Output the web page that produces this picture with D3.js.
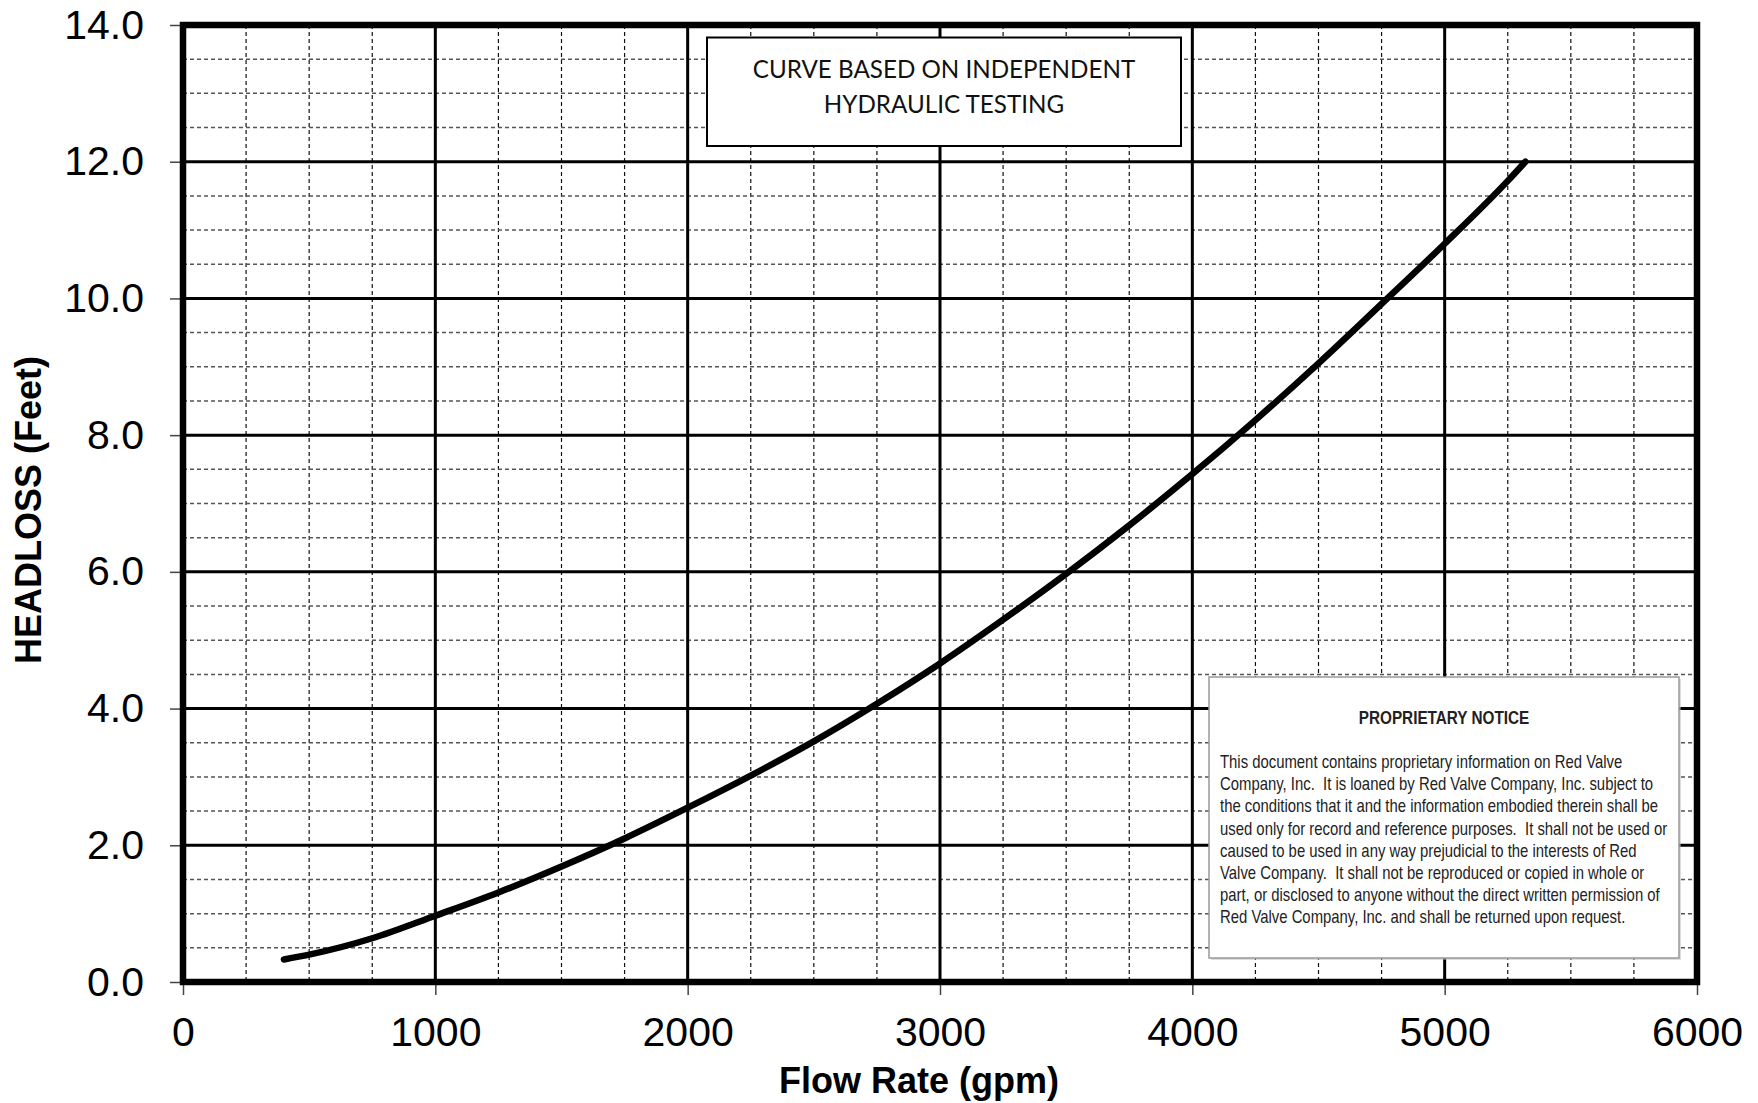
<!DOCTYPE html>
<html>
<head>
<meta charset="utf-8">
<script src="https://cdn.jsdelivr.net/npm/d3@7"></script>
<style>
  html, body { margin: 0; padding: 0; background: #fff; }
  svg { display: block; }
  .notice text { white-space: pre; }
</style>
</head>
<body>
<svg id="chart" width="1758" height="1103"></svg>
<script>
// ---- data ----
const flowRate = [400, 500, 750, 1000, 1250, 1500, 1750, 2000, 2250, 2500, 2750, 3000, 3250, 3500, 3750, 4000, 4250, 4500, 4750, 5000, 5250, 5320];
const headloss = [0.33, 0.40, 0.64, 0.97, 1.31, 1.69, 2.10, 2.55, 3.02, 3.52, 4.07, 4.66, 5.30, 5.97, 6.68, 7.43, 8.22, 9.05, 9.92, 10.80, 11.72, 12.0];
const xTicks = [0, 1000, 2000, 3000, 4000, 5000, 6000];
const yTicks = [0, 2, 4, 6, 8, 10, 12, 14];
const xTitle = "Flow Rate (gpm)";
const yTitle = "HEADLOSS (Feet)";
const curveNote = ["CURVE BASED ON INDEPENDENT", "HYDRAULIC TESTING"];
const noticeTitle = "PROPRIETARY NOTICE";
const noticeLines = [
  "This document contains proprietary information on Red Valve",
  "Company, Inc.  It is loaned by Red Valve Company, Inc. subject to",
  "the conditions that it and the information embodied therein shall be",
  "used only for record and reference purposes.  It shall not be used or",
  "caused to be used in any way prejudicial to the interests of Red",
  "Valve Company.  It shall not be reproduced or copied in whole or",
  "part, or disclosed to anyone without the direct written permission of",
  "Red Valve Company, Inc. and shall be returned upon request."
];

// ---- layout ----
const L = 183, T = 25, R = 1697, B = 982;
const svg = d3.select("#chart");
const x = d3.scaleLinear().domain([0, 6000]).range([L, R]);
const y = d3.scaleLinear().domain([0, 14]).range([B, T]);
const armFont = "'Liberation Sans', Arial, Helvetica, sans-serif";

// minor grid
const g = svg.append("g");
g.selectAll("line.vminor").data(d3.range(250, 6000, 250).filter(v => v % 1000 !== 0))
  .join("line").attr("class", "vminor")
  .attr("x1", d => x(d)).attr("x2", d => x(d)).attr("y1", T).attr("y2", B)
  .attr("stroke", "#111").attr("stroke-width", 1.2).attr("stroke-dasharray", "4,3");
g.selectAll("line.hminor").data(d3.range(0.5, 14, 0.5).filter(v => v % 2 !== 0))
  .join("line").attr("class", "hminor")
  .attr("x1", L).attr("x2", R).attr("y1", d => y(d)).attr("y2", d => y(d))
  .attr("stroke", "#555").attr("stroke-width", 1.5).attr("stroke-dasharray", "4,3");
// major grid
g.selectAll("line.vmajor").data(xTicks.slice(1, -1))
  .join("line").attr("x1", d => x(d)).attr("x2", d => x(d)).attr("y1", T).attr("y2", B)
  .attr("stroke", "#000").attr("stroke-width", 3);
g.selectAll("line.hmajor").data(yTicks.slice(1, -1))
  .join("line").attr("x1", L).attr("x2", R).attr("y1", d => y(d)).attr("y2", d => y(d))
  .attr("stroke", "#000").attr("stroke-width", 3);

// axes
const xAxis = svg.append("g").attr("transform", `translate(0,${B})`)
  .call(d3.axisBottom(x).tickValues(xTicks).tickFormat(d3.format("d")).tickSize(13).tickPadding(22));
const yAxis = svg.append("g").attr("transform", `translate(${L},0)`)
  .call(d3.axisLeft(y).tickValues(yTicks).tickFormat(d3.format(".1f")).tickSize(13).tickPadding(26));
[xAxis, yAxis].forEach(a => {
  a.select(".domain").remove();
  a.selectAll(".tick line").attr("stroke", "#444").attr("stroke-width", 1.5);
  a.selectAll(".tick text").attr("font-family", armFont).attr("font-size", 41).attr("fill", "#000");
});
xAxis.selectAll(".tick text").attr("dy", "0.71em");

// curve box
const cb = svg.append("g");
cb.append("rect").attr("x", 707).attr("y", 37.5).attr("width", 474).attr("height", 108.5)
  .attr("fill", "#fff").attr("stroke", "#000").attr("stroke-width", 2);
cb.selectAll("text").data(curveNote).join("text")
  .attr("x", 944).attr("y", (d, i) => 78 + i * 34.5)
  .attr("text-anchor", "middle").attr("font-family", "Lato, 'Open Sans', sans-serif")
  .attr("font-size", 24.2).attr("fill", "#111").text(d => d);

// notice box
const nb = svg.append("g").attr("class", "notice");
nb.append("rect").attr("x", 1211).attr("y", 679).attr("width", 470).attr("height", 281)
  .attr("fill", "#bbb").attr("opacity", 0.5);
nb.append("rect").attr("x", 1209).attr("y", 677).attr("width", 470).attr("height", 281)
  .attr("fill", "#fff").attr("stroke", "#999").attr("stroke-width", 1.5);
const narrow = "'Liberation Sans Narrow', 'Arial Narrow', 'Liberation Sans', sans-serif";
const sx = 0.85; // horizontal condensing to mimic a narrow face
const nt = nb.append("g").attr("transform", `translate(1220,0) scale(${sx},1)`);
nt.append("text").attr("x", (1444 - 1220) / sx).attr("y", 724).attr("text-anchor", "middle")
  .attr("font-family", narrow).attr("font-weight", "bold").attr("font-size", 18)
  .attr("fill", "#222").text(noticeTitle);
nt.selectAll("text.line").data(noticeLines).join("text").attr("class", "line")
  .attr("x", 0).attr("y", (d, i) => 768 + i * 22.2)
  .attr("font-family", narrow).attr("font-size", 17.5).attr("fill", "#222").text(d => d);

// curve
const pts = flowRate.map((q, i) => [q, headloss[i]]);
svg.append("path").datum(pts)
  .attr("d", d3.line().x(d => x(d[0])).y(d => y(d[1])).curve(d3.curveMonotoneX))
  .attr("fill", "none").attr("stroke", "#000").attr("stroke-width", 6.5)
  .attr("stroke-linecap", "round").attr("stroke-linejoin", "round");

// frame
svg.append("rect").attr("x", L).attr("y", T).attr("width", R - L).attr("height", B - T)
  .attr("fill", "none").attr("stroke", "#000").attr("stroke-width", 6.5);

// titles
svg.append("text").attr("x", 919).attr("y", 1093).attr("text-anchor", "middle")
  .attr("font-family", armFont).attr("font-weight", "bold").attr("font-size", 36)
  .attr("fill", "#000").text(xTitle);
svg.append("text").attr("transform", "translate(41,510) rotate(-90)").attr("text-anchor", "middle")
  .attr("font-family", armFont).attr("font-weight", "bold").attr("font-size", 36)
  .attr("fill", "#000").text(yTitle);
</script>
</body>
</html>
